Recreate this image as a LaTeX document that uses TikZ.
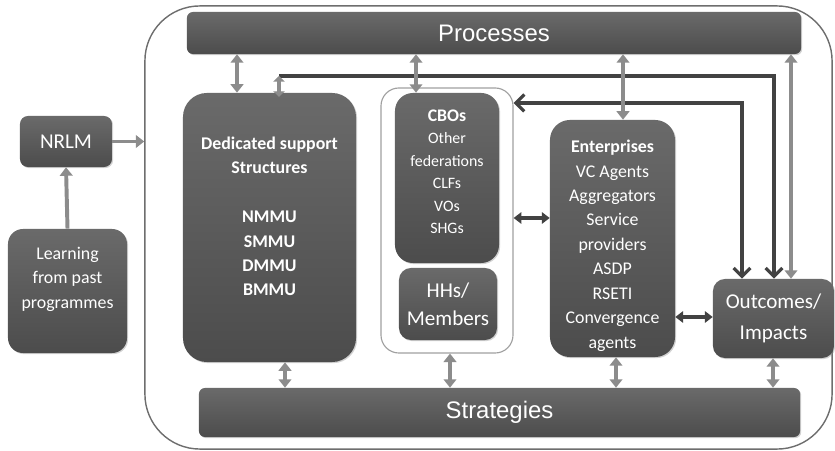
\documentclass[tikz,border=0pt]{standalone}
\usepackage{fontspec}
\newfontfamily\boxfont{Carlito}
\newfontfamily\barfont{Liberation Sans}
\usetikzlibrary{arrows.meta,shadows}
\definecolor{boxtop}{HTML}{6A6A6A}
\definecolor{boxbot}{HTML}{4C4C4C}
\definecolor{arrowgrey}{HTML}{8C8C8C}
\definecolor{linedark}{HTML}{424242}
\definecolor{framegrey}{HTML}{6E6E6E}
\definecolor{cboframe}{HTML}{A0A0A0}
% text block moved up or down inside its box
\newcommand{\nudge}[2]{\raisebox{#1}[\height][\depth]{\begin{tabular}{@{}c@{}}#2\end{tabular}}}

\begin{document}
\begin{tikzpicture}[x=0.025cm, y=-0.025cm,
    darkbox/.style={top color=boxtop, bottom color=boxbot, draw=none, text=white,
        align=center, inner sep=0pt, font=\boxfont\fontsize{12.7}{17.4}\selectfont,
        drop shadow={shadow xshift=0.8pt, shadow yshift=-0.8pt, opacity=0.35}},
    bigtext/.style={font=\boxfont\fontsize{15}{20}\selectfont},
    bartext/.style={font=\barfont\fontsize{17}{20}\selectfont},
    greyarrow/.style={draw=arrowgrey, line width=2.8pt,
        {Triangle[width=9pt,length=6pt]}-{Triangle[width=9pt,length=6pt]}},
    greyone/.style={draw=arrowgrey, line width=2.8pt, -{Triangle[width=9pt,length=6pt]}},
    darkline/.style={draw=linedark, line width=2.3pt, -{Straight Barb[length=6pt,width=12pt]}},
    darkdbl/.style={draw=linedark, line width=2.3pt,
        {Triangle[width=8pt,length=5.5pt]}-{Triangle[width=8pt,length=5.5pt]}}
    ]
    \useasboundingbox (0,0) rectangle (835,451);

    %% Frame round the programme
    \node[draw=framegrey, line width=1pt, fill=white, rounded corners=1.375cm,
        minimum width=17.175cm, minimum height=11.075cm, inner sep=0pt] (frame) at (488.5,227.5) {};
    \node[draw=cboframe, line width=0.8pt, fill=white, rounded corners=0.45cm,
        minimum width=3.3cm, minimum height=6.625cm, inner sep=0pt] (cbof) at (447,220.5) {};

    %% Inputs
    \node[darkbox, bigtext, minimum width=2.3cm, minimum height=1.275cm, rounded corners=0.2cm]
        (nrlm) at (66,141.5) {NRLM};
    \node[darkbox, minimum width=2.975cm, minimum height=3.1cm, rounded corners=0.375cm]
        (learn) at (67.5,291) {\nudge{8.5pt}{Learning\\from past\\programmes}};

    %% Bars
    \node[darkbox, bartext, minimum width=15.35cm, minimum height=1.05cm, rounded corners=0.15cm]
        (proc) at (494,33) {Processes};
    \node[darkbox, bartext, minimum width=15.025cm, minimum height=1.225cm, rounded corners=0.15cm]
        (strat) at (499.5,412.5) {Strategies};

    %% Actors
    \node[darkbox, font=\boxfont\bfseries\fontsize{12.7}{17.4}\selectfont,
        minimum width=4.325cm, minimum height=6.725cm, rounded corners=0.6cm]
        (ded) at (269.5,227.5) {\nudge{7pt}{Dedicated support\\Structures\\[17.4pt]NMMU\\SMMU\\DMMU\\BMMU}};
    \node[darkbox, font=\boxfont\fontsize{11.3}{16}\selectfont,
        minimum width=2.6cm, minimum height=4.25cm, rounded corners=0.45cm]
        (cbo) at (447,178) {\nudge{3.5pt}{{\fontsize{12.6}{16}\selectfont\bfseries CBOs}\\Other\\federations\\CLFs\\VOs\\SHGs}};
    \node[darkbox, bigtext, minimum width=2.45cm, minimum height=1.8cm, rounded corners=0.3cm]
        (hh) at (448,304) {HHs/\\Members};
    \node[darkbox, minimum width=3.125cm, minimum height=5.925cm, rounded corners=0.5cm]
        (ent) at (612.5,238.5) {\nudge{-5pt}{\textbf{Enterprises}\\VC Agents\\Aggregators\\Service\\providers\\ASDP\\RSETI\\Convergence\\agents}};
    \node[darkbox, font=\boxfont\fontsize{15}{22}\selectfont,
        minimum width=3.025cm, minimum height=1.975cm, rounded corners=0.3cm]
        (out) at (773.5,318.5) {Outcomes/\\Impacts};

    %% Turning points of the long links
    \coordinate (loopa) at (279,76);
    \coordinate (loopb) at (774,76);
    \coordinate (loopc) at (742,103);
    \coordinate (cbolink) at (0,218);
    \coordinate (outlink) at (0,317);

    %% Feedback lines
    \draw[darkline]
    (loopa) -- (loopb) -- (out.north -| loopb)
    ;
    \draw[darkline, {Straight Barb[length=6pt,width=12pt]}-{Straight Barb[length=6pt,width=12pt]}]
    (cbof.east |- loopc) -- (loopc) -- (out.north -| loopc)
    ;
    \draw[darkdbl] (cbof.east |- cbolink) -- (ent.west |- cbolink);
    \draw[darkdbl] (ent.east |- outlink) -- (out.west |- outlink);

    %% Inputs into the frame
    \draw[greyone] (learn.north) -- (nrlm.south);
    \draw[greyone] (nrlm.east) -- (nrlm.east -| frame.west);

    %% Links to Processes
    \draw[greyarrow, {Triangle[width=8pt,length=4pt]}-{Triangle[width=8pt,length=4pt]}, shorten >=-3pt]
    (loopa) -- (ded.north -| loopa)
    ;
    \foreach \xp/\nd in {237/ded, 416/cbo, 623/ent, 791/out}
    {
    \coordinate (tmp) at (\xp,0);
    \draw[greyarrow] (proc.south -| tmp) -- (\nd.north -| tmp);
    }
    %% Links to Strategies
    \foreach \xp/\nd in {285/ded, 450/cbof, 616/ent, 773/out}
    {
    \coordinate (tmp) at (\xp,0);
    \draw[greyarrow] (\nd.south -| tmp) -- (strat.north -| tmp);
    }
\end{tikzpicture}
\end{document}
